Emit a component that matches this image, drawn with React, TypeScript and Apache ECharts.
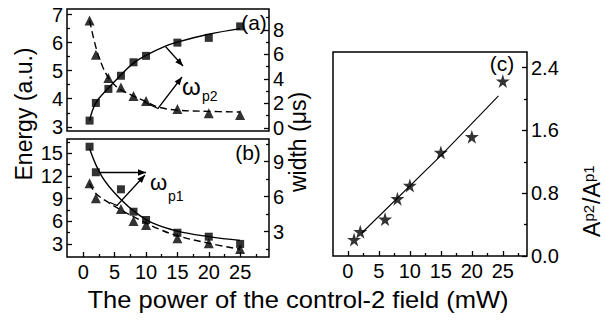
import React, { useEffect, useRef } from "react";
import * as echarts from "echarts";

// ---------- data ----------
// panel (a)
const POWER_A = [1, 2, 4, 6, 8, 10, 15, 20, 25];
const ENERGY_A = [3.22, 3.85, 4.35, 4.82, 5.3, 5.53, 6.0, 6.17, 6.58];
const WIDTH_A = [8.76, 5.96, 4.07, 3.3, 2.6, 2.2, 1.55, 1.2, 1.06];
const ENERGY_A_FIT_X = [1, 2, 4, 6, 8, 10, 13, 15, 20, 25];
const ENERGY_A_FIT_Y = [3.22, 3.85, 4.38, 4.85, 5.27, 5.55, 5.87, 6.02, 6.3, 6.5];
const WIDTH_A_FIT_X = [1, 2, 3, 4, 5, 6, 8, 10, 12, 15, 20, 25];
const WIDTH_A_FIT_Y = [8.76, 6.6, 5.1, 4.1, 3.5, 3.1, 2.6, 2.15, 1.7, 1.45, 1.35, 1.3];
// panel (b)
const POWER_B = [1, 2, 6, 8, 10, 15, 20, 25];
const WIDTH_B = [10.28, 8.09, 6.63, 4.71, 4.0, 2.91, 2.57, 1.95];
const ENERGY_B = [11.03, 9.05, 7.63, 6.04, 5.52, 3.76, 3.1, 2.35];
const WIDTH_B_FIT_X = [1, 3, 6, 8.5, 11, 15, 20, 25];
const WIDTH_B_FIT_Y = [10.1, 7.7, 5.75, 4.58, 3.75, 3.05, 2.58, 2.25];
const ENERGY_B_FIT_X = [1, 2, 4, 6, 9, 12, 15, 20, 25];
const ENERGY_B_FIT_Y = [11.0, 9.7, 8.5, 7.5, 6.2, 5.0, 4.1, 3.1, 2.3];
// panel (c)
const POWER_C = [1, 2, 6, 8, 10, 15, 20, 25];
const RATIO_C = [0.21, 0.31, 0.47, 0.73, 0.9, 1.32, 1.52, 2.23];
const RATIO_FIT_X = [2.2, 15, 24.3];
const RATIO_FIT_Y = [0.29, 1.28, 2.04];
// ticks
const X_TICKS = [0, 5, 10, 15, 20, 25];
const X_MINOR = [2.5, 7.5, 12.5, 17.5, 22.5, 27.5];
const E_A_TICKS = [3, 4, 5, 6, 7];
const E_A_MINOR = [3.5, 4.5, 5.5, 6.5];
const W_A_TICKS = [0, 2, 4, 6, 8];
const W_A_MINOR = [1, 3, 5, 7, 9];
const E_B_TICKS = [3, 6, 9, 12, 15];
const E_B_MINOR = [4.5, 7.5, 10.5, 13.5, 16.5];
const W_B_TICKS = [3, 6, 9];
const W_B_MINOR = [1.5, 4.5, 7.5, 10.5];
const R_TICKS = [0, 0.8, 1.6, 2.4];
const R_MINOR = [0.4, 1.2, 2.0];

const FONT = "Liberation Sans, Arial, sans-serif";
const STAR = "path://M50,0 L61,35 L98,35 L68,57 L79,91 L50,70 L21,91 L32,57 L2,35 L39,35 Z";

const zip = (xs: number[], ys: number[]) => xs.map((x, i) => [x, ys[i]]);

function axis(kind: "x" | "y", grid: number, pos: string, min: number, max: number, ticks: number[], labels: boolean, len: number, fmt?: (v: number) => string) {
  return {
    type: "value",
    gridIndex: grid,
    position: pos,
    offset: 0,
    min,
    max,
    axisLine: { show: false, onZero: false },
    splitLine: { show: false },
    axisTick: {
      show: ticks.length > 0,
      inside: true,
      length: len,
      customValues: ticks,
      lineStyle: { color: "#000", width: 1.3 },
    },
    axisLabel: {
      show: labels,
      customValues: ticks,
      color: "#000",
      fontSize: 20,
      fontFamily: FONT,
      margin: kind === "x" ? 5 : 4,
      formatter: fmt,
    },
  };
}

function arrowHead(x1: number, y1: number, x2: number, y2: number, len = 8, w = 3.2) {
  const a = Math.atan2(y2 - y1, x2 - x1);
  const bx = x2 - len * Math.cos(a);
  const by = y2 - len * Math.sin(a);
  const nx = -Math.sin(a) * w;
  const ny = Math.cos(a) * w;
  return {
    type: "polygon",
    shape: { points: [[x2, y2], [bx + nx, by + ny], [bx - nx, by - ny]] },
    style: { fill: "#000" },
  };
}

function arrow(points: number[][]) {
  const n = points.length;
  return [
    { type: "polyline", shape: { points }, style: { stroke: "#000", lineWidth: 1.3, fill: null } },
    arrowHead(points[n - 2][0], points[n - 2][1], points[n - 1][0], points[n - 1][1]),
  ];
}

function txt(x: number, y: number, text: string, size: number, rot = 0, align = "center", valign = "middle", sx = 1) {
  return {
    type: "text",
    x,
    y,
    rotation: rot,
    scaleX: sx,
    style: {
      text,
      fontSize: size,
      fontFamily: FONT,
      fill: "#000",
      align,
      verticalAlign: valign,
      textAlign: align,
      textVerticalAlign: valign,
    },
  };
}

export default function App() {
  const ref = useRef<HTMLDivElement>(null);
  useEffect(() => {
    if (!ref.current) return;
    const chart = echarts.init(ref.current, null, { renderer: "svg" });
    const line = (xi: number, yi: number, xs: number[], ys: number[], dashed: boolean) => ({
      type: "line",
      xAxisIndex: xi,
      yAxisIndex: yi,
      data: zip(xs, ys),
      smooth: 0.4,
      showSymbol: false,
      symbol: "none",
      lineStyle: { color: "#000", width: 1.4, type: dashed ? [7, 4] : "solid" },
      z: 2,
    });
    const pts = (xi: number, yi: number, xs: number[], ys: number[], symbol: string, size: number) => ({
      type: "scatter",
      xAxisIndex: xi,
      yAxisIndex: yi,
      data: zip(xs, ys),
      symbol,
      symbolSize: size,
      itemStyle: { color: "#000" },
      z: 3,
    });
    const border = { show: true, borderColor: "#000", borderWidth: 1.5, backgroundColor: "transparent" };
    chart.setOption({
      animation: false,
      backgroundColor: "#fff",
      grid: [
        { left: 67, top: 9, width: 202, height: 122, ...border },
        { left: 67, top: 139, width: 202, height: 118, ...border },
        { left: 333, top: 52, width: 194, height: 204, ...border },
      ],
      xAxis: [
        axis("x", 0, "bottom", -2.6, 29.6, [], false, 5),
        axis("x", 1, "bottom", -2.6, 29.6, X_TICKS, true, 5),
        axis("x", 1, "bottom", -2.6, 29.6, X_MINOR, false, 3),
        axis("x", 2, "bottom", -2.4, 28.9, X_TICKS, true, 5),
        axis("x", 2, "bottom", -2.4, 28.9, X_MINOR, false, 3),
      ],
      yAxis: [
        axis("y", 0, "left", 2.85, 7.2, E_A_TICKS, true, 5),
        axis("y", 0, "left", 2.85, 7.2, E_A_MINOR, false, 3),
        axis("y", 0, "right", -0.25, 9.7, W_A_TICKS, true, 5),
        axis("y", 0, "right", -0.25, 9.7, W_A_MINOR, false, 3),
        axis("y", 1, "left", 1.28, 16.9, E_B_TICKS, true, 5),
        axis("y", 1, "left", 1.28, 16.9, E_B_MINOR, false, 3),
        axis("y", 1, "right", 0.83, 10.94, W_B_TICKS, true, 5),
        axis("y", 1, "right", 0.83, 10.94, W_B_MINOR, false, 3),
        axis("y", 2, "right", 0, 2.6, R_TICKS, true, 5, (v: number) => v.toFixed(1)),
        axis("y", 2, "right", 0, 2.6, R_MINOR, false, 3),
      ],
      series: [
        line(0, 0, ENERGY_A_FIT_X, ENERGY_A_FIT_Y, false),
        pts(0, 0, POWER_A, ENERGY_A, "rect", 8),
        line(0, 2, WIDTH_A_FIT_X, WIDTH_A_FIT_Y, true),
        pts(0, 2, POWER_A, WIDTH_A, "triangle", 10),
        line(1, 6, WIDTH_B_FIT_X, WIDTH_B_FIT_Y, false),
        pts(1, 6, POWER_B, WIDTH_B, "rect", 8),
        line(1, 4, ENERGY_B_FIT_X, ENERGY_B_FIT_Y, true),
        pts(1, 4, POWER_B, ENERGY_B, "triangle", 10),
        { ...line(3, 8, RATIO_FIT_X, RATIO_FIT_Y, false), smooth: false, lineStyle: { color: "#000", width: 1.1 } },
        pts(3, 8, POWER_C, RATIO_C, STAR, 14),
      ],
      graphic: [
        txt(24, 114, "Energy (a.u.)", 23, Math.PI / 2),
        txt(298, 142, "width (μs)", 23, Math.PI / 2),
        txt(298, 300, "The power of the control-2 field (mW)", 23, 0, "center", "middle", 1.11),
        txt(254, 22, "(a)", 21),
        txt(248, 152, "(b)", 21),
        txt(502, 63, "(c)", 21),
        txt(182, 86, "ω", 24, 0, "left"),
        txt(202, 96, "p2", 14, 0, "left"),
        txt(150, 182, "ω", 22, 0, "left"),
        txt(168, 196, "p1", 14, 0, "left"),
        ...arrow([[165.7, 46.7], [183, 66]]),
        ...arrow([[144, 102], [158, 108.5], [182, 77]]),
        ...arrow([[100, 172.5], [146, 172.5]]),
        ...arrow([[110, 202.5], [117, 205.5], [145, 175]]),
        {
          type: "group",
          x: 592,
          y: 237,
          rotation: Math.PI / 2,
          children: [
            txt(0, 0, "A", 23, 0, "left"),
            txt(15.5, -4, "p2", 15, 0, "left"),
            txt(33, 0, "/", 23, 0, "left"),
            txt(39.5, 0, "A", 23, 0, "left"),
            txt(55, -4, "p1", 15, 0, "left"),
          ],
        },
      ],
    });
    return () => chart.dispose();
  }, []);
  return <div ref={ref} style={{ position: "fixed", left: 0, top: 0, width: 605, height: 321 }} />;
}
